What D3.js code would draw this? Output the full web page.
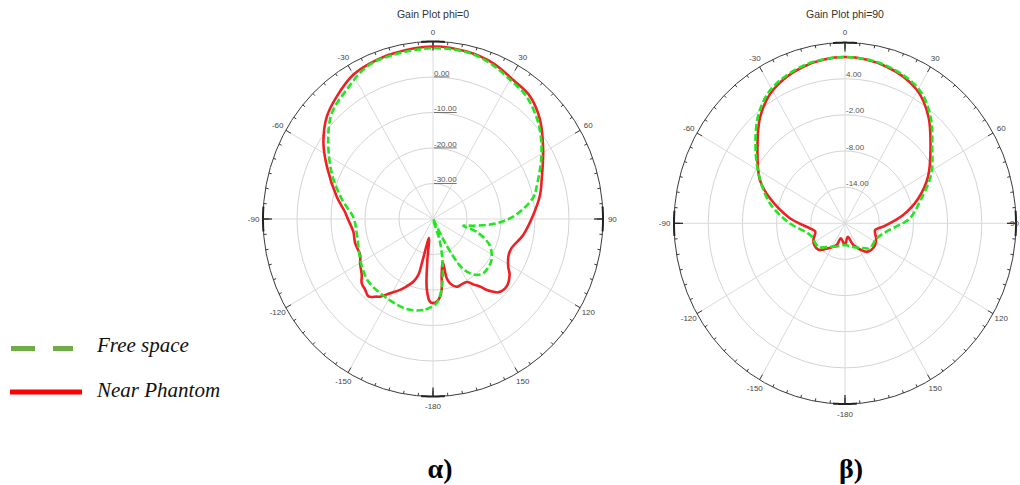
<!DOCTYPE html>
<html><head><meta charset="utf-8">
<script src="https://cdn.jsdelivr.net/npm/d3@7"></script>
<style>body{margin:0;background:#fff} svg{display:block}</style>
</head><body><svg id="c" width="1020" height="485"></svg>
<script>
// ---------- DATA ----------
// Gain Plot phi=0 (panel α), dB vs angle (deg)
const phi0NearAngles = [-180,-177.8,-174.6,-172,-167.6,-165.3,-164.7,-161.8,-157.8,-154.1,-148.9,-144.5,-142.9,-139,-135,-130.8,-126.9,-120.2,-115.3,-106.6,-98.7,-90.7,-85.5,-77.5,-64.7,-56.6,-47.3,-39.5,-30,-22.9,-14.1,0,11.9,22,31.1,39.6,48.4,59,71,77.9,87.8,99.6,109.6,115,121.3,125,131.3,137.1,139.1,141.7,144,147.2,150,153.8,158.6,160,164.6,166.4,166.7,170.8,172.5,174.6,177.3];
const phi0NearGain = [-16.3,-16.7,-20.4,-27.9,-34.5,-27.6,-23.7,-21.4,-19.5,-17.8,-15.6,-13.1,-12.6,-11.1,-11.8,-12.3,-13.8,-15.2,-16.3,-16.1,-16.3,-15.1,-14.0,-11.0,-5.5,-1.4,2.5,4.6,6.9,7.6,8.1,8.6,8.2,7.3,5.7,4.8,2.1,-2.2,-6.2,-7.8,-10.5,-13.1,-15.5,-15.5,-14.1,-12.5,-11.2,-11.8,-12.9,-14.5,-16.5,-18.1,-19.5,-19.8,-19.6,-19.7,-21.2,-22.8,-27.6,-24.1,-20.3,-18.0,-16.7];
const phi0FreeAngles = [-180,-173.7,-163,-148.7,-133,-120,-101,-89,-78.2,-66.7,-54.2,-45,-34.9,-24.4,-14.2,0,11.9,20.9,30,38.6,48.9,59.9,73.4,78.4,87,93.7,99.1,102,105.8,114.3,124.5,130,136,140.9,144.5,148,150.5,152.5,160,162.2,167.6,172.5,177.3];
const phi0FreeGain = [-15.5,-14.2,-13.5,-13.9,-14.1,-15.5,-17.2,-16.6,-12.6,-7.6,-2.0,2.1,4.4,7.1,7.7,8.1,8.0,7.0,5.3,4.1,1.1,-3.1,-8.2,-9.9,-15.4,-21.2,-28.0,-30.9,-26.6,-21.6,-19.2,-18.8,-18.7,-19.7,-21.2,-23.5,-27.8,-33.8,-40,-33.3,-26.8,-20.3,-16.3];

// Gain Plot phi=90 (panel β)
const phi90NearAngles = [-180,-163.2,-157.8,-144.6,-133.5,-124,-116.5,-104.8,-97.8,-85,-72.5,-64.2,-51.6,-40.1,-29.6,-15.7,0,15.7,29.6,39.5,51,62,72.2,82.3,94.8,101.9,114.6,124,133.5,141,157.8,167.8];
const phi90NearGain = [-16.4,-17.4,-16.1,-14.9,-13.6,-13.5,-13.8,-14.6,-13.8,-10.3,-6.2,-3.4,-0.4,3.1,5.5,7.0,7.6,7.0,5.5,3.0,-0.7,-3.5,-6.5,-9.7,-13.3,-14.6,-14.0,-13.6,-13.6,-13.9,-16.1,-17.7];
const phi90FreeAngles = [-180,-160,-145.9,-129.8,-107.6,-90,-75.8,-62,-51,-40,-30,-15,0,15,30,40,51,62,74.7,85.8,100.7,114.2,133.4,142.2,160];
const phi90FreeGain = [-16.4,-15.9,-15.3,-13.9,-13.6,-10.3,-6.4,-2.9,0.2,3.6,5.8,7.2,7.6,7.2,5.8,3.3,-0.3,-2.9,-6.4,-8.6,-12.6,-13.9,-14.0,-14.8,-15.8];

const phi0Domain = [-40, 10];
const phi0Rings = [-30, -20, -10, 0];
const phi0RingLabels = ["-30.00", "-20.00", "-10.00", "0.00"];
const phi90Domain = [-20, 10];
const phi90Rings = [-14, -8, -2, 4];
const phi90RingLabels = ["-14.00", "-8.00", "-2.00", "4.00"];
const angleTicks = [0, 30, 60, 90, 120, 150, -180, -150, -120, -90, -60, -30];
const seriesNames = ["Free space", "Near Phantom"];
const panelLabels = ["α)", "β)"];
const titles = ["Gain Plot phi=0", "Gain Plot phi=90"];

// ---------- DRAW ----------
const svg = d3.select('#c');
const RED = '#ee2024', GREEN = '#22e622';
const FONT = '"Liberation Sans", Arial, sans-serif';
const W = 1020;

function drawPolar(cfg) {
  const {cx, cy, rx, ry, domain, rings, ringLabels, title, underline, series} = cfg;
  const g = svg.append('g');
  const r = d3.scaleLinear().domain(domain).range([0, 1]).clamp(true);
  const rad = d3.scaleLinear().domain([0, 180]).range([0, Math.PI]);
  const px = (f, deg) => cx + f * rx * Math.sin(rad(deg));
  const py = (f, deg) => cy - f * ry * Math.cos(rad(deg));

  rings.forEach(v => g.append('ellipse')
    .attr('cx', cx).attr('cy', cy).attr('rx', r(v) * rx).attr('ry', r(v) * ry)
    .attr('fill', 'none').attr('stroke', '#d4d4d4').attr('stroke-width', 1));

  d3.range(0, 360, 30).forEach(a => g.append('line')
    .attr('x1', cx).attr('y1', cy).attr('x2', px(1, a)).attr('y2', py(1, a))
    .attr('stroke', '#dadada').attr('stroke-width', 1));

  g.append('ellipse').attr('cx', cx).attr('cy', cy).attr('rx', rx).attr('ry', ry)
    .attr('fill', 'none').attr('stroke', '#3a3a3a').attr('stroke-width', 1);

  d3.range(0, 360, 5).forEach(a => {
    const len = a % 30 === 0 ? 6 : 3;
    g.append('line')
      .attr('x1', px(1, a)).attr('y1', py(1, a))
      .attr('x2', px(1 - len / rx, a)).attr('y2', py(1 - len / ry, a))
      .attr('stroke', '#3a3a3a').attr('stroke-width', 1);
  });
  [0, 90, 180, 270].forEach(a => {
    const pts = d3.range(a - 4, a + 4.01, 0.5).map(t => [px(1, t), py(1, t)]);
    g.append('path').attr('d', d3.line()(pts)).attr('fill', 'none')
      .attr('stroke', '#222').attr('stroke-width', 2);
    g.append('line').attr('x1', px(1, a)).attr('y1', py(1, a))
      .attr('x2', px(1 - 9 / rx, a)).attr('y2', py(1 - 9 / ry, a))
      .attr('stroke', '#222').attr('stroke-width', 1.2);
  });

  angleTicks.forEach(a => {
    const x = px(1.055, a);
    const t = g.append('text')
      .attr('x', x).attr('y', py(1.055, a)).attr('dy', '0.35em')
      .attr('text-anchor', 'middle').attr('font-family', FONT).attr('font-size', 8)
      .attr('fill', '#444').text(a);
    if (x + 6 > W) t.attr('x', W - 1).attr('text-anchor', 'end');
  });

  rings.forEach((v, i) => g.append('text')
    .attr('x', cx + 1).attr('y', cy - r(v) * ry - 1.5)
    .attr('font-family', FONT).attr('font-size', 8).attr('fill', '#555')
    .attr('text-decoration', underline ? 'underline' : null)
    .text(ringLabels[i]));

  const line = d3.line().curve(d3.curveCatmullRomClosed.alpha(0.5));
  series.forEach(s => {
    const pts = s.angles.map((a, i) => [px(r(s.gain[i]), a), py(r(s.gain[i]), a)]);
    g.append('path').attr('d', line(pts)).attr('fill', 'none')
      .attr('stroke', s.color).attr('stroke-width', 2.6)
      .attr('stroke-dasharray', s.dash || null)
      .attr('stroke-linejoin', 'round');
  });

  g.append('text').attr('x', cx).attr('y', 18).attr('text-anchor', 'middle')
    .attr('font-family', FONT).attr('font-size', 10.5).attr('fill', '#333').text(title);
}

drawPolar({cx: 433, cy: 219, rx: 170, ry: 177.5, domain: phi0Domain, rings: phi0Rings,
  ringLabels: phi0RingLabels, title: titles[0], underline: true,
  series: [
    {angles: phi0NearAngles, gain: phi0NearGain, color: RED},
    {angles: phi0FreeAngles, gain: phi0FreeGain, color: GREEN, dash: '7,3'}
  ]});

drawPolar({cx: 845, cy: 223.3, rx: 171, ry: 180.7, domain: phi90Domain, rings: phi90Rings,
  ringLabels: phi90RingLabels, title: titles[1], underline: false,
  series: [
    {angles: phi90NearAngles, gain: phi90NearGain, color: RED},
    {angles: phi90FreeAngles, gain: phi90FreeGain, color: GREEN, dash: '7,3'}
  ]});

// legend
const lg = svg.append('g');
lg.append('line').attr('x1', 11).attr('x2', 73).attr('y1', 348.5).attr('y2', 348.5)
  .attr('stroke', '#70ad47').attr('stroke-width', 5).attr('stroke-dasharray', '24,18');
lg.append('line').attr('x1', 10).attr('x2', 82).attr('y1', 392).attr('y2', 392)
  .attr('stroke', '#ff0000').attr('stroke-width', 5);
[[352, seriesNames[0]], [397, seriesNames[1]]].forEach(([y, t]) => lg.append('text')
  .attr('x', 97).attr('y', y).attr('font-family', '"Liberation Serif", "Times New Roman", serif')
  .attr('font-style', 'italic').attr('font-size', 21).attr('fill', '#111').text(t));

// panel labels
[[440, panelLabels[0]], [851, panelLabels[1]]].forEach(([x, t]) => svg.append('text')
  .attr('x', x).attr('y', 478).attr('text-anchor', 'middle')
  .attr('font-family', '"Liberation Serif", "Times New Roman", serif')
  .attr('font-weight', 'bold').attr('font-size', 28).attr('fill', '#000').text(t));
</script>
</body></html>
